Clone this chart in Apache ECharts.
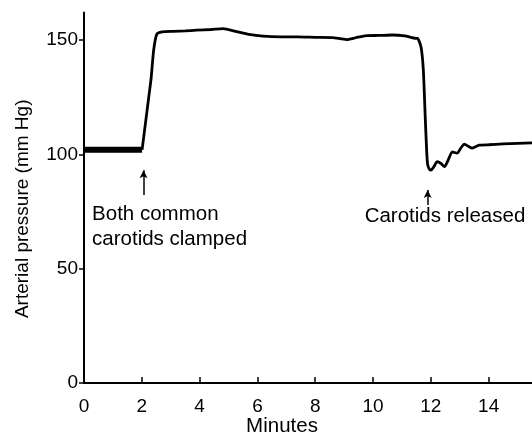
<!DOCTYPE html>
<html lang="en">
<head>
    <meta charset="UTF-8">
    <title>Arterial pressure</title>
    <script src="https://cdn.jsdelivr.net/npm/echarts@6/dist/echarts.min.js"></script>
    <style>
        html, body { margin: 0; padding: 0; background: #fff; }
        #main { width: 532px; height: 436px; }
    </style>
</head>
<body>
    <div id="main"></div>
    <script>
        // noisy control segment before clamping
        var baseMinutes  = [0, 0.5, 1.0, 1.5, 2.01];
        var basePressure = [102, 102, 102, 102, 102];

        // trace after clamping
        var minutes  = [2.01, 2.12, 2.23, 2.32, 2.41, 2.52, 2.70, 3.10, 3.50, 3.90, 4.40, 4.81, 5.28, 5.70, 6.19, 6.80, 7.40, 8.00, 8.60, 9.08, 9.40, 9.77, 10.20, 10.67, 11.10, 11.49, 11.54, 11.66, 11.74, 11.81, 11.86, 11.89, 11.95, 12.01, 12.10, 12.22, 12.35, 12.47, 12.60, 12.74, 12.91, 13.05, 13.16, 13.30, 13.43, 13.67, 14.00, 14.50, 15.00, 15.50];
        var pressure = [102, 113, 124, 133, 145.6, 152.6, 153.6, 153.8, 154, 154.3, 154.6, 155, 153.7, 152.5, 151.7, 151.4, 151.4, 151.2, 151.1, 150.2, 151, 151.9, 152, 152.2, 151.8, 150.7, 150.7, 147, 137, 115, 100.4, 95.5, 93.5, 93.1, 94.5, 96.8, 96, 94.6, 97.5, 101.1, 100.5, 103, 104.5, 103.5, 102.7, 104, 104.2, 104.6, 104.8, 105];

        var xTicks = [0, 2, 4, 6, 8, 10, 12, 14];
        var yTicks = [0, 50, 100, 150];

        var notes = ['Both common\ncarotids clamped', 'Carotids released'];
        var noteAt = [[0.28, 68.4], [9.71, 72.7]];
        var arrows = [[2.06, 82.2, 93], [11.89, 77.8, 84.4]];

        function pairs(xs, ys) {
            return xs.map(function (x, i) { return [x, ys[i]]; });
        }

        var font = 'Liberation Sans, Arial, Helvetica, sans-serif';
        var myChart = echarts.init(document.getElementById('main'));

        var option = {
            animation: false,
            grid: { left: 84, right: 0, top: 12.6, bottom: 53, outerBoundsMode: 'none' },
            xAxis: {
                type: 'value',
                min: 0,
                max: 15.5,
                interval: 2,
                name: 'Minutes',
                nameLocation: 'middle',
                nameGap: 33,
                nameMoveOverlap: false,
                nameTextStyle: { color: '#000', fontSize: 20.5, fontFamily: font, padding: [0, 52, 0, 0] },
                axisLine: { lineStyle: { color: '#000', width: 2 } },
                axisTick: { inside: true, length: 6, customValues: xTicks, lineStyle: { color: '#000', width: 1.5 } },
                axisLabel: { customValues: xTicks, margin: 14, color: '#000', fontSize: 19, fontFamily: font },
                splitLine: { show: false }
            },
            yAxis: {
                type: 'value',
                min: 0,
                max: 162,
                interval: 50,
                name: 'Arterial pressure (mm Hg)',
                nameLocation: 'middle',
                nameGap: 52,
                nameMoveOverlap: false,
                nameTextStyle: { color: '#000', fontSize: 19, fontFamily: font, padding: [0, 22, 0, 0] },
                axisLine: { show: true, lineStyle: { color: '#000', width: 2 } },
                axisTick: { show: true, length: 5, customValues: yTicks, lineStyle: { color: '#000', width: 1.5 } },
                axisLabel: { customValues: yTicks, margin: 6, color: '#000', fontSize: 19, fontFamily: font },
                splitLine: { show: false }
            },
            series: [{
                type: 'line',
                data: pairs(baseMinutes, basePressure),
                showSymbol: false,
                lineStyle: { color: '#000', width: 6 }
            },
            {
                type: 'line',
                data: pairs(minutes, pressure),
                showSymbol: false,
                smooth: 0.2,
                lineStyle: { color: '#000', width: 2.8 },
                markLine: {
                    silent: true,
                    symbol: ['none', 'arrow'],
                    symbolSize: [6, 8],
                    label: { show: false },
                    lineStyle: { color: '#000', width: 1.5, type: 'solid' },
                    data: arrows.map(function (a) {
                        return [{ coord: [a[0], a[1]] }, { coord: [a[0], a[2]] }];
                    })
                },
                markPoint: {
                    silent: true,
                    symbol: 'circle',
                    symbolSize: 0,
                    label: {
                        show: true,
                        position: 'right',
                        distance: 0,
                        color: '#000',
                        fontSize: 20.5,
                        lineHeight: 25,
                        fontFamily: font,
                        formatter: function (p) { return p.name; }
                    },
                    data: notes.map(function (n, i) {
                        return { name: n, coord: noteAt[i] };
                    })
                }
            }]
        };

        myChart.setOption(option);
    </script>
</body>
</html>
